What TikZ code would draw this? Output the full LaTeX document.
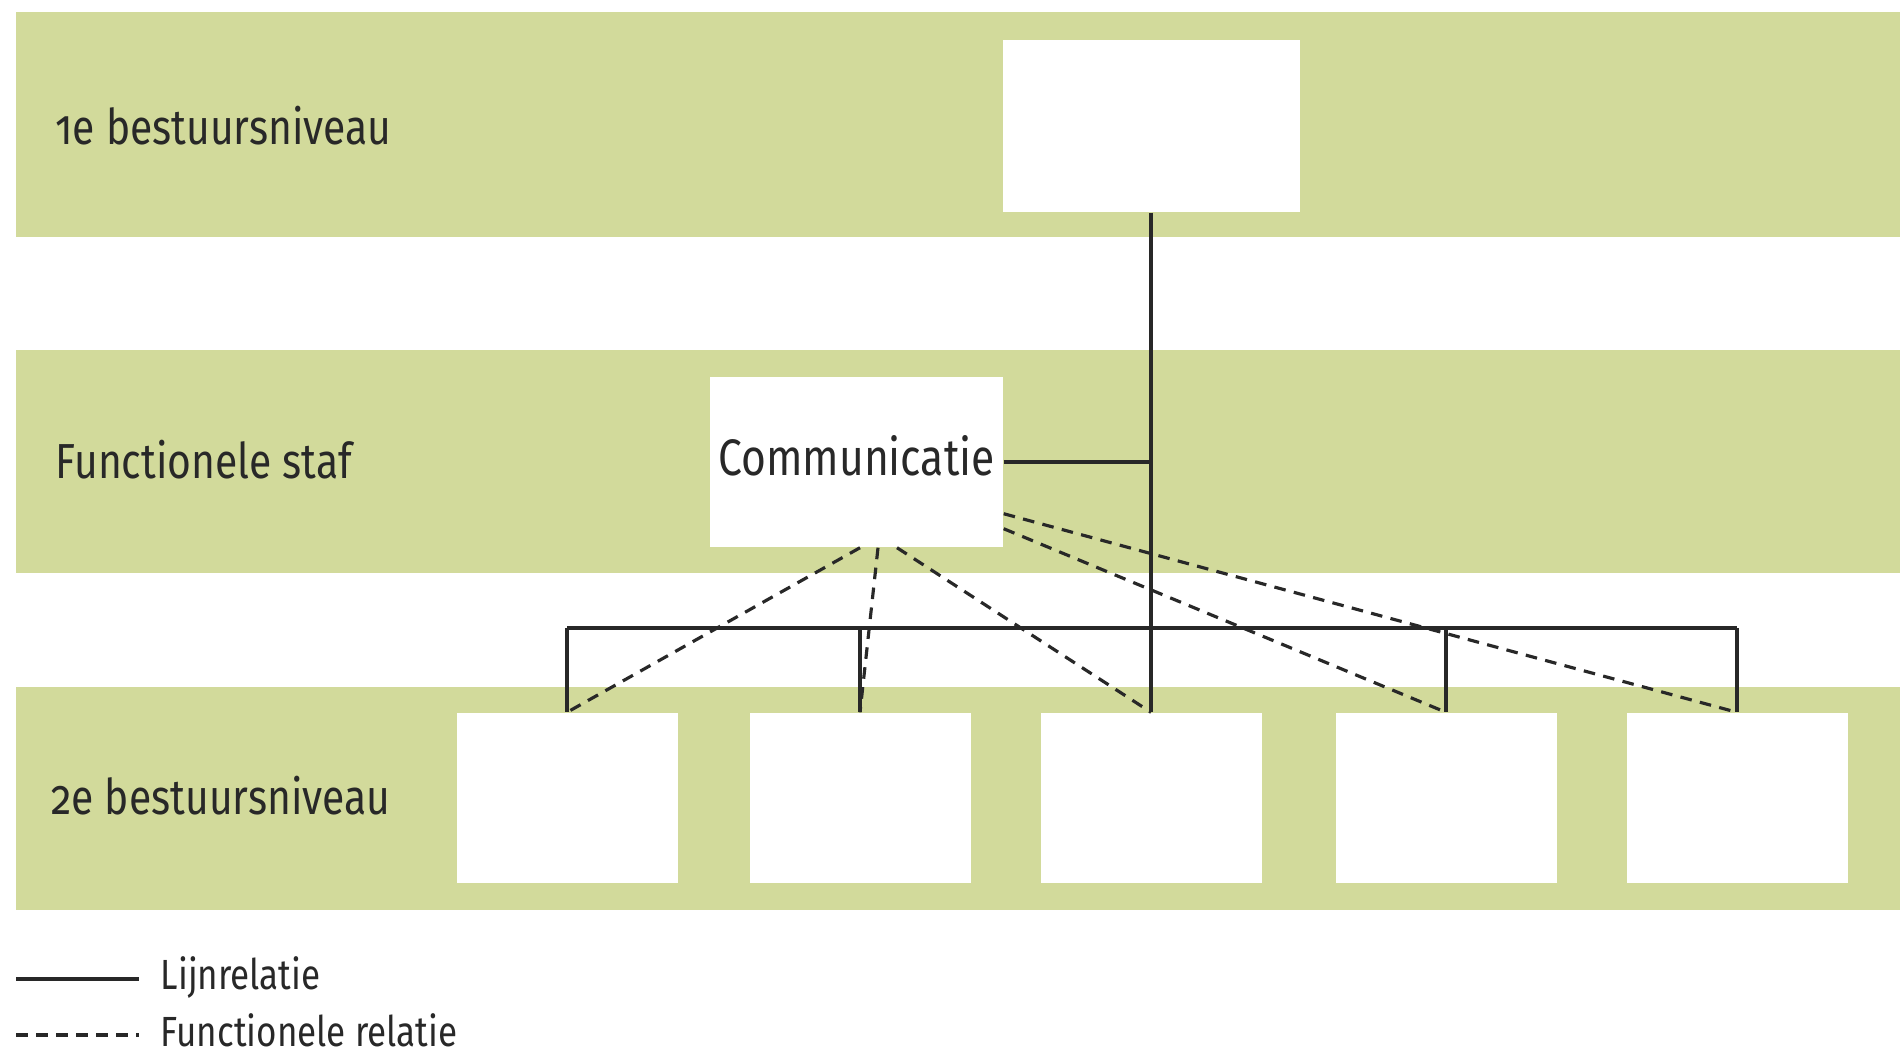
\documentclass[tikz,border=0pt]{standalone}
\usepackage{fontspec}
\setmainfont{Fira Sans}[Numbers=OldStyle,FakeStretch=0.83]
\usetikzlibrary{calc}

\definecolor{band}{RGB}{210,218,155}
\definecolor{ink}{RGB}{40,40,40}

\begin{document}
\begin{tikzpicture}[
    box/.style={fill=white,inner sep=0pt},
    level/.style={anchor=west,inner sep=0pt,text=ink,font=\fontsize{14}{16}\selectfont},
    legend/.style={anchor=west,inner sep=0pt,text=ink,font=\fontsize{12}{14}\selectfont},
    line/.style={ink,line width=0.9pt},
    func/.style={ink,line width=0.9pt,dash pattern=on 3.3pt off 2.4pt}]
  \useasboundingbox (0,0) rectangle (19,-10.56);

  % the three levels
  \fill[band] (0.16,-0.12) rectangle (19,-2.37);
  \fill[band] (0.16,-3.50) rectangle (19,-5.73);
  \fill[band] (0.16,-6.87) rectangle (19,-9.10);

  \node[level] (lvl one) at (0.55,-1.26) {1e bestuursniveau};
  \node[level] (lvl staf) at (0.55,-4.60) {Functionele staf};
  \node[level] (lvl two) at (0.51,-7.96) {2e bestuursniveau};

  % boxes
  \node[box,minimum width=2.97cm,minimum height=1.72cm] (top) at (11.51,-1.26) {};
  \node[box,minimum width=2.93cm,minimum height=1.70cm,text depth=0.14cm,text=ink,
        font=\fontsize{14.6}{16}\selectfont] (comm) at (8.565,-4.62) {Communicatie};
  \foreach \x [count=\i] in {5.67,8.60,11.51,14.46,17.37}
    \node[box,minimum width=2.21cm,minimum height=1.70cm] (unit\i) at (\x,-7.98) {};

  % line relations
  \coordinate (bus) at (11.51,-6.28);
  \draw[line] (top.south) -- (unit3.north);
  \draw[line] (comm.east) -- (comm.east -| top.south);
  \draw[line] (unit1.north |- bus) -- (unit5.north |- bus);
  \foreach \i in {1,2,4,5}
    \draw[line] (unit\i.north |- bus) -- (unit\i.north);

  % functional relations
  \draw[func] ($(comm.south)+(0.035,0)$) -- (unit1.north);
  \draw[func] ($(comm.south)+(0.215,0)$) -- (unit2.north);
  \draw[func] ($(comm.south)+(0.405,0)$) -- (unit3.north);
  \draw[func] ($(comm.south east)+(0,0.19)$) -- (unit4.north);
  \draw[func] ($(comm.south east)+(0,0.34)$) -- (unit5.north);

  % legend
  \coordinate (solid a) at (0.16,-9.79);
  \coordinate (solid b) at (1.39,-9.79);
  \coordinate (dash a) at (0.16,-10.35);
  \coordinate (dash b) at (1.39,-10.35);
  \draw[line] (solid a) -- (solid b);
  \draw[func] (dash a) -- (dash b);
  \node[legend] (key line) at (1.60,-9.77) {Lijnrelatie};
  \node[legend] (key func) at (1.60,-10.30) {Functionele relatie};
\end{tikzpicture}
\end{document}
